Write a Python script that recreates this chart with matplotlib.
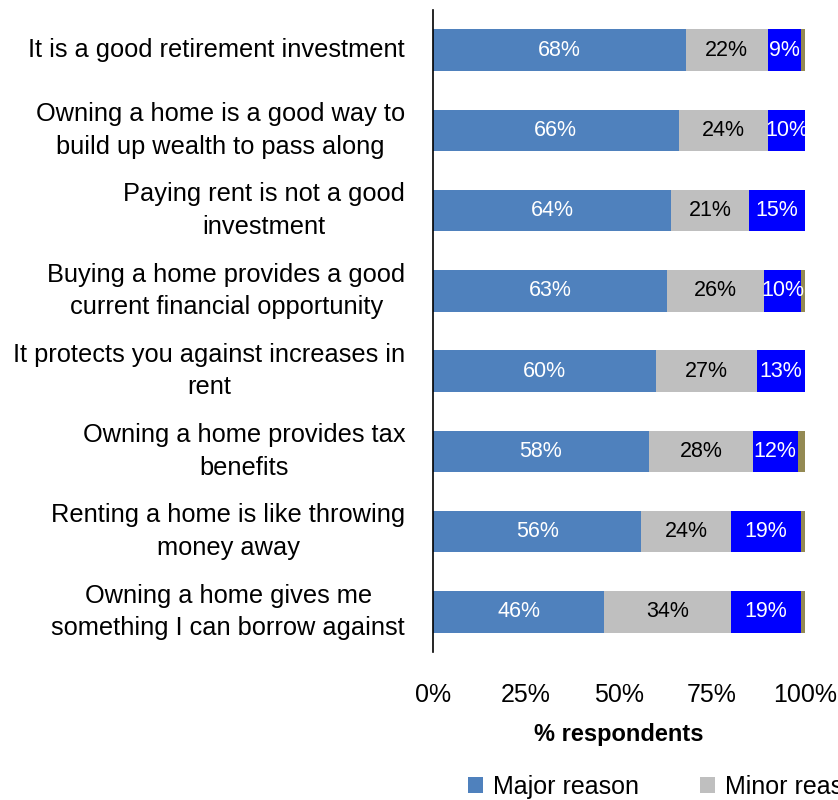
import numpy as np
import matplotlib.pyplot as plt
from matplotlib.patches import Patch

plt.rcParams["font.family"] = ["Liberation Sans", "DejaVu Sans"]

statements = [
    "It is a good retirement investment",
    "Owning a home is a good way to\nbuild up wealth to pass along",
    "Paying rent is not a good\ninvestment",
    "Buying a home provides a good\ncurrent financial opportunity",
    "It protects you against increases in\nrent",
    "Owning a home provides tax\nbenefits",
    "Renting a home is like throwing\nmoney away",
    "Owning a home gives me\nsomething I can borrow against",
]
major = [68, 66, 64, 63, 60, 58, 56, 46]
minor = [22, 24, 21, 26, 27, 28, 24, 34]
not_reason = [9, 10, 15, 10, 13, 12, 19, 19]
dont_know = [1, 0, 0, 1, 0, 2, 1, 1]

series_names = ["Major reason", "Minor reason"]
colors = ["#4F81BD", "#BFBFBF", "#0000FF", "#948A54"]
label_colors = ["white", "black", "white", None]


def main():
    fig = plt.figure(figsize=(8.38, 8.0), dpi=100)
    ax = fig.add_axes([0.5167, 0.185, 0.4439, 0.8025])

    y = np.arange(len(statements))
    left = np.zeros(len(statements))
    for vals, color, tcolor in zip([major, minor, not_reason, dont_know], colors, label_colors):
        vals = np.array(vals, dtype=float)
        bars = ax.barh(y, vals, left=left, height=0.52, color=color, edgecolor="none")
        if tcolor is not None:
            for rect, v in zip(bars, vals):
                cx = rect.get_x() + rect.get_width() / 2
                ax.text(cx, rect.get_y() + rect.get_height() / 2, f"{v:.0f}%",
                        ha="center", va="center", color=tcolor, fontsize=15.5)
        left += vals

    ax.set_xlim(0, 100)
    ax.set_ylim(len(statements) - 0.5, -0.5)
    ax.set_yticks(y)
    ax.set_yticklabels(statements, fontsize=18.3, ha="right", va="center",
                       multialignment="center", linespacing=1.45)
    ax.set_xticks([0, 25, 50, 75, 100])
    ax.set_xticklabels(["0%", "25%", "50%", "75%", "100%"], fontsize=18)
    ax.tick_params(axis="both", length=0)
    ax.tick_params(axis="y", pad=20)
    ax.tick_params(axis="x", pad=22)
    for side in ["top", "right", "bottom"]:
        ax.spines[side].set_visible(False)
    ax.spines["left"].set_linewidth(1.2)
    ax.set_xlabel("% respondents", fontsize=17, fontweight="bold", labelpad=12)

    handles = [Patch(facecolor=c, edgecolor="none") for c in colors[:2]]
    fig.legend(handles, series_names, loc="center left", bbox_to_anchor=(0.558, 0.016),
               ncol=2, frameon=False, fontsize=18, handlelength=0.6, handleheight=0.6,
               handletextpad=0.4, columnspacing=2.45, borderpad=0, borderaxespad=0)

    fig.savefig("out.png", dpi=100)
    plt.close(fig)


if __name__ == "__main__":
    main()
